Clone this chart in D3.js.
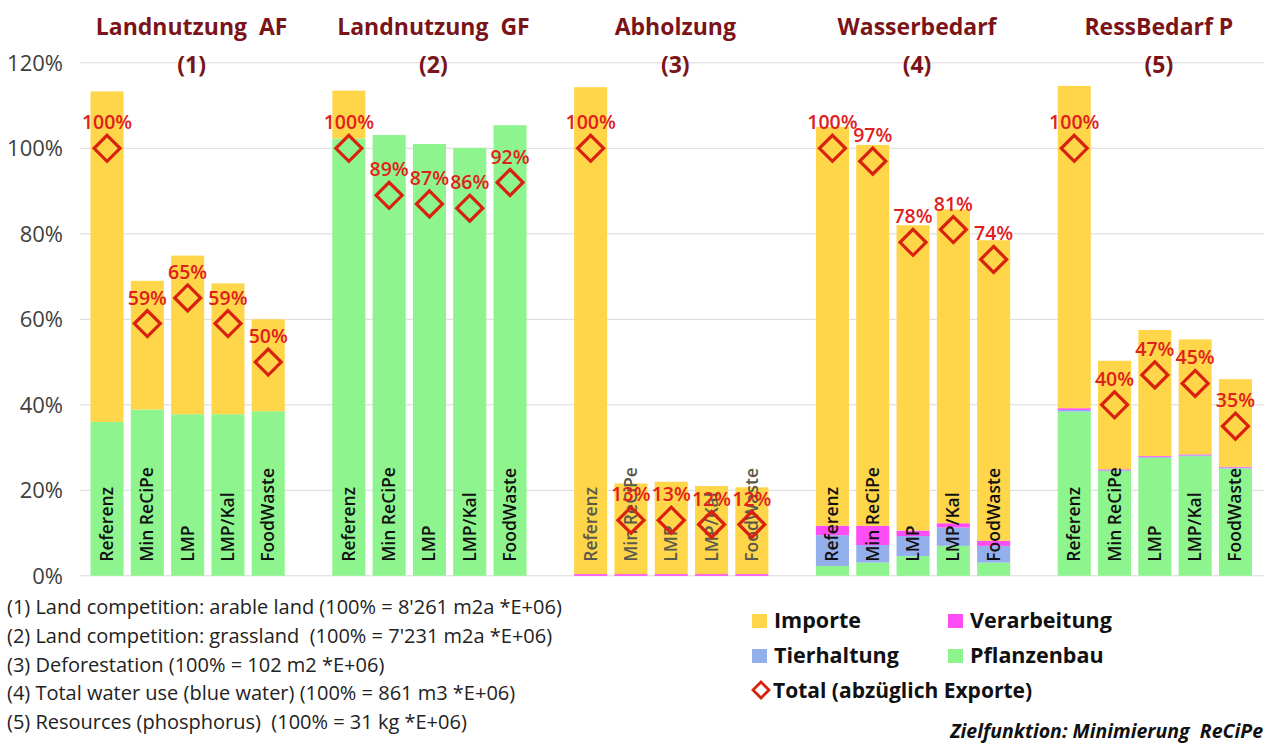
<!DOCTYPE html>
<html>
<head>
<meta charset="utf-8">
<script src="https://cdn.jsdelivr.net/npm/d3@7"></script>
<style>
  html, body { margin: 0; padding: 0; background: #fff; }
  svg { display: block; }
</style>
</head>
<body>
<svg id="chart" width="1264" height="744"></svg>
<script>
// Indicators (groups) and scenarios (bars within each group)
const groupTitles = ["Landnutzung  AF", "Landnutzung  GF", "Abholzung", "Wasserbedarf", "RessBedarf P"];
const groupNumbers = ["(1)", "(2)", "(3)", "(4)", "(5)"];
const scenarios = ["Referenz", "Min ReCiPe", "LMP", "LMP/Kal", "FoodWaste"];

// Stack components in % of the reference total, one row per indicator
const pflanzenbau = [
  [36.0, 38.9, 37.8, 37.8, 38.5],
  [102.3, 103.1, 101.0, 100.1, 105.4],
  [0, 0, 0, 0, 0],
  [2.3, 3.1, 4.6, 7.0, 3.1],
  [38.4, 24.5, 27.6, 28.0, 25.1]
];
const tierhaltung = [
  [0, 0, 0, 0, 0],
  [0, 0, 0, 0, 0],
  [0, 0, 0, 0, 0],
  [7.2, 4.1, 4.7, 4.3, 3.9],
  [0.4, 0.2, 0.2, 0.2, 0.2]
];
const verarbeitung = [
  [0, 0, 0, 0, 0],
  [0, 0, 0, 0, 0],
  [0.4, 0.4, 0.4, 0.4, 0.4],
  [2.2, 4.5, 1.3, 1.0, 1.2],
  [0.4, 0.2, 0.2, 0.2, 0.2]
];
const importe = [
  [77.3, 30.1, 37.1, 30.6, 21.5],
  [11.2, 0, 0, 0, 0],
  [113.9, 21.2, 21.6, 20.6, 20.3],
  [93.3, 89.1, 71.4, 73.4, 70.3],
  [75.4, 25.4, 29.5, 26.9, 20.5]
];
// Total net of exports (diamond markers)
const totals = [
  [100, 59, 65, 59, 50],
  [100, 89, 87, 86, 92],
  [100, 13, 13, 12, 12],
  [100, 97, 78, 81, 74],
  [100, 40, 47, 45, 35]
];
const yTicks = [0, 20, 40, 60, 80, 100, 120];
const footnotes = [
  "(1) Land competition: arable land (100% = 8'261 m2a *E+06)",
  "(2) Land competition: grassland  (100% = 7'231 m2a *E+06)",
  "(3) Deforestation (100% = 102 m2 *E+06)",
  "(4) Total water use (blue water) (100% = 861 m3 *E+06)",
  "(5) Resources (phosphorus)  (100% = 31 kg *E+06)"
];

const seriesKeys = ["Pflanzenbau", "Tierhaltung", "Verarbeitung", "Importe"];
const seriesData = { Pflanzenbau: pflanzenbau, Tierhaltung: tierhaltung, Verarbeitung: verarbeitung, Importe: importe };
const colors = {
  Importe: "#FFD54A",
  Verarbeitung: "#FF4DF5",
  Tierhaltung: "#93B0EC",
  Pflanzenbau: "#8EF58E"
};
const red = "#D8210F";
const titleColor = "#7A1418";

const svg = d3.select("#chart");

// Slots: 5 bars per group, with one empty slot between groups
const slots = [];
groupTitles.forEach((g, gi) => {
  scenarios.forEach((s, si) => slots.push(`${gi}-${si}`));
  if (gi < groupTitles.length - 1) slots.push(`gap${gi}`);
});

const x = d3.scaleBand().domain(slots).range([86.9, 1255.6]).paddingInner(0.18).paddingOuter(0.09);
const y = d3.scaleLinear().domain([0, 120]).range([575.8, 62.8]);

// Gridlines
svg.append("g").selectAll("line").data(yTicks).join("line")
  .attr("x1", 80).attr("x2", 1264)
  .attr("y1", d => y(d)).attr("y2", d => y(d))
  .attr("stroke", "#d9d9d9").attr("stroke-width", 1);

// Y axis labels
svg.append("g").selectAll("text").data(yTicks).join("text")
  .attr("x", 63).attr("y", d => y(d)).attr("dy", "0.36em")
  .attr("text-anchor", "end")
  .attr("font-family", "Open Sans, sans-serif").attr("font-size", 22)
  .attr("fill", "#404040")
  .text(d => d + "%");

// Flatten bars
const bars = [];
groupTitles.forEach((g, gi) => {
  scenarios.forEach((s, si) => {
    const row = { key: `${gi}-${si}`, gi, si };
    seriesKeys.forEach(k => row[k] = seriesData[k][gi][si]);
    row.total = totals[gi][si];
    bars.push(row);
  });
});

const stack = d3.stack().keys(seriesKeys);
const stacked = stack(bars);

svg.append("g").selectAll("g").data(stacked).join("g")
  .attr("fill", d => colors[d.key])
  .selectAll("rect").data(d => d).join("rect")
  .attr("x", d => x(d.data.key))
  .attr("width", x.bandwidth())
  .attr("y", d => y(d[1]))
  .attr("height", d => Math.max(0, y(d[0]) - y(d[1])));

// Scenario names inside the bars
svg.append("g").selectAll("text").data(bars).join("text")
  .attr("transform", d => `translate(${x(d.key) + x.bandwidth() / 2 + 6},${y(0) - 14}) rotate(-90)`)
  .attr("font-family", "Open Sans, sans-serif").attr("font-size", 17.5).attr("font-weight", 600)
  .attr("fill", d => d.gi === 2 ? "#5a5a4a" : "#111")
  .text(d => scenarios[d.si]);

// Total markers
const half = 13;
svg.append("g").selectAll("path").data(bars).join("path")
  .attr("d", d => {
    const cx = x(d.key) + x.bandwidth() / 2, cy = y(d.total);
    return `M${cx},${cy - half}L${cx + half},${cy}L${cx},${cy + half}L${cx - half},${cy}Z`;
  })
  .attr("fill", "none").attr("stroke", red).attr("stroke-width", 3.2);

// Total labels
svg.append("g").selectAll("text").data(bars).join("text")
  .attr("x", d => x(d.key) + x.bandwidth() / 2)
  .attr("y", d => y(d.total) - 19)
  .attr("text-anchor", "middle")
  .attr("font-family", "Open Sans, sans-serif").attr("font-size", 19.5).attr("font-weight", 600)
  .attr("fill", "#E0201C")
  .text(d => d.total + "%");

// Group titles
groupTitles.forEach((g, gi) => {
  const first = x(`${gi}-0`), last = x(`${gi}-4`) + x.bandwidth();
  const cx = (first + last) / 2 + 4;
  const t = svg.append("text")
    .attr("x", cx).attr("text-anchor", "middle")
    .attr("font-family", "Open Sans, sans-serif").attr("font-size", 23).attr("font-weight", 700)
    .attr("fill", titleColor).style("white-space", "pre");
  t.append("tspan").attr("x", cx).attr("y", 35).text(g);
  t.append("tspan").attr("x", cx).attr("y", 73).text(groupNumbers[gi]);
});

// Footnotes
svg.append("g").selectAll("text").data(footnotes).join("text")
  .attr("x", 7).attr("y", (d, i) => 614 + i * 28.8)
  .attr("font-family", "Open Sans, sans-serif").attr("font-size", 20)
  .attr("fill", "#222").style("white-space", "pre")
  .text(d => d);

// Legend
const legendItems = [
  { key: "Importe", x: 752, y: 628 },
  { key: "Verarbeitung", x: 948, y: 628 },
  { key: "Tierhaltung", x: 752, y: 663 },
  { key: "Pflanzenbau", x: 948, y: 663 }
];
const lg = svg.append("g");
legendItems.forEach(it => {
  lg.append("rect").attr("x", it.x).attr("y", it.y - 14).attr("width", 15).attr("height", 14)
    .attr("fill", colors[it.key]);
  lg.append("text").attr("x", it.x + 22).attr("y", it.y)
    .attr("font-family", "Open Sans, sans-serif").attr("font-size", 21.5).attr("font-weight", 700)
    .attr("fill", "#111").text(it.key);
});
lg.append("path")
  .attr("d", "M761,682L769,690L761,698L753,690Z")
  .attr("fill", "none").attr("stroke", red).attr("stroke-width", 2.8);
lg.append("text").attr("x", 773).attr("y", 698)
  .attr("font-family", "Open Sans, sans-serif").attr("font-size", 21).attr("font-weight", 700)
  .attr("fill", "#111").text("Total (abzüglich Exporte)");

svg.append("text").attr("x", 1263).attr("y", 738)
  .attr("text-anchor", "end")
  .attr("font-family", "Open Sans, sans-serif").attr("font-size", 19.5).attr("font-weight", 700)
  .attr("font-style", "italic").attr("fill", "#111")
  .style("white-space", "pre")
  .text("Zielfunktion: Minimierung  ReCiPe");
</script>
</body>
</html>
